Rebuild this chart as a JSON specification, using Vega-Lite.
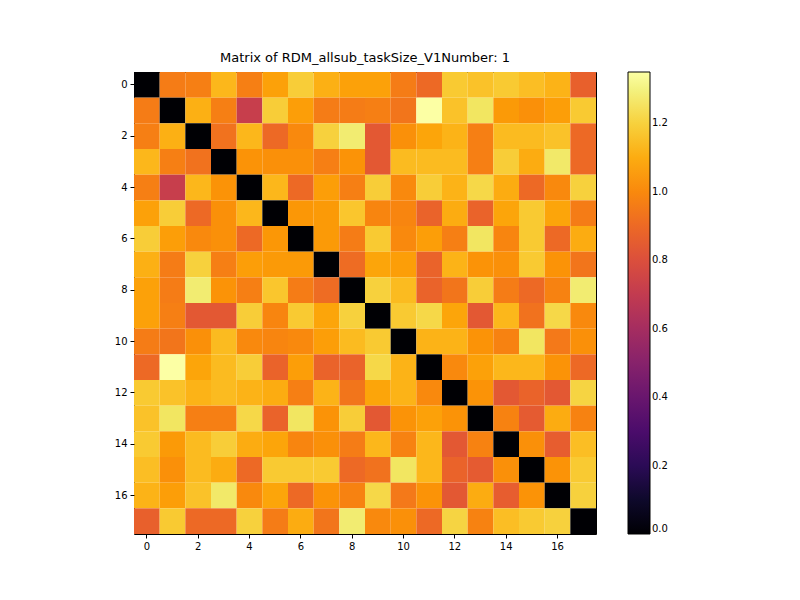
{"$schema":"https://vega.github.io/schema/vega-lite/v6.json","width":462,"height":462,"autosize":{"type":"none"},"padding":{"left":134,"top":72,"right":204,"bottom":66},
"config":{"font":"DejaVu Sans","view":{"stroke":"black","strokeWidth":1}},
"title":{"text":"Matrix of RDM_allsub_taskSize_V1Number: 1","fontSize":13,"fontWeight":"normal","color":"black","offset":7},
"data":{"values":[
{"r":0,"c":0,"v":0},{"r":0,"c":1,"v":0.96},{"r":0,"c":2,"v":0.97},{"r":0,"c":3,"v":1.13},{"r":0,"c":4,"v":0.97},{"r":0,"c":5,"v":1.07},{"r":0,"c":6,"v":1.19},{"r":0,"c":7,"v":1.11},{"r":0,"c":8,"v":1.07},{"r":0,"c":9,"v":1.07},{"r":0,"c":10,"v":0.96},{"r":0,"c":11,"v":0.9},{"r":0,"c":12,"v":1.18},{"r":0,"c":13,"v":1.16},{"r":0,"c":14,"v":1.18},{"r":0,"c":15,"v":1.15},{"r":0,"c":16,"v":1.12},{"r":0,"c":17,"v":0.87},
{"r":1,"c":0,"v":0.96},{"r":1,"c":1,"v":0},{"r":1,"c":2,"v":1.11},{"r":1,"c":3,"v":0.97},{"r":1,"c":4,"v":0.72},{"r":1,"c":5,"v":1.19},{"r":1,"c":6,"v":1.06},{"r":1,"c":7,"v":0.96},{"r":1,"c":8,"v":0.96},{"r":1,"c":9,"v":0.97},{"r":1,"c":10,"v":0.94},{"r":1,"c":11,"v":1.35},{"r":1,"c":12,"v":1.16},{"r":1,"c":13,"v":1.26},{"r":1,"c":14,"v":1.05},{"r":1,"c":15,"v":1.02},{"r":1,"c":16,"v":1.06},{"r":1,"c":17,"v":1.18},
{"r":2,"c":0,"v":0.97},{"r":2,"c":1,"v":1.11},{"r":2,"c":2,"v":0},{"r":2,"c":3,"v":0.93},{"r":2,"c":4,"v":1.13},{"r":2,"c":5,"v":0.9},{"r":2,"c":6,"v":1.0},{"r":2,"c":7,"v":1.2},{"r":2,"c":8,"v":1.28},{"r":2,"c":9,"v":0.84},{"r":2,"c":10,"v":1.02},{"r":2,"c":11,"v":1.08},{"r":2,"c":12,"v":1.12},{"r":2,"c":13,"v":0.97},{"r":2,"c":14,"v":1.14},{"r":2,"c":15,"v":1.14},{"r":2,"c":16,"v":1.16},{"r":2,"c":17,"v":0.9},
{"r":3,"c":0,"v":1.13},{"r":3,"c":1,"v":0.97},{"r":3,"c":2,"v":0.93},{"r":3,"c":3,"v":0},{"r":3,"c":4,"v":1.03},{"r":3,"c":5,"v":1.02},{"r":3,"c":6,"v":1.02},{"r":3,"c":7,"v":0.97},{"r":3,"c":8,"v":1.03},{"r":3,"c":9,"v":0.84},{"r":3,"c":10,"v":1.14},{"r":3,"c":11,"v":1.14},{"r":3,"c":12,"v":1.14},{"r":3,"c":13,"v":0.97},{"r":3,"c":14,"v":1.19},{"r":3,"c":15,"v":1.1},{"r":3,"c":16,"v":1.27},{"r":3,"c":17,"v":0.9},
{"r":4,"c":0,"v":0.97},{"r":4,"c":1,"v":0.72},{"r":4,"c":2,"v":1.13},{"r":4,"c":3,"v":1.03},{"r":4,"c":4,"v":0},{"r":4,"c":5,"v":1.13},{"r":4,"c":6,"v":0.9},{"r":4,"c":7,"v":1.06},{"r":4,"c":8,"v":0.97},{"r":4,"c":9,"v":1.19},{"r":4,"c":10,"v":1.0},{"r":4,"c":11,"v":1.19},{"r":4,"c":12,"v":1.12},{"r":4,"c":13,"v":1.22},{"r":4,"c":14,"v":1.1},{"r":4,"c":15,"v":0.9},{"r":4,"c":16,"v":1.0},{"r":4,"c":17,"v":1.2},
{"r":5,"c":0,"v":1.07},{"r":5,"c":1,"v":1.19},{"r":5,"c":2,"v":0.9},{"r":5,"c":3,"v":1.02},{"r":5,"c":4,"v":1.13},{"r":5,"c":5,"v":0},{"r":5,"c":6,"v":1.04},{"r":5,"c":7,"v":1.05},{"r":5,"c":8,"v":1.17},{"r":5,"c":9,"v":0.99},{"r":5,"c":10,"v":0.99},{"r":5,"c":11,"v":0.88},{"r":5,"c":12,"v":1.1},{"r":5,"c":13,"v":0.88},{"r":5,"c":14,"v":1.08},{"r":5,"c":15,"v":1.18},{"r":5,"c":16,"v":1.08},{"r":5,"c":17,"v":0.96},
{"r":6,"c":0,"v":1.19},{"r":6,"c":1,"v":1.06},{"r":6,"c":2,"v":1.0},{"r":6,"c":3,"v":1.02},{"r":6,"c":4,"v":0.9},{"r":6,"c":5,"v":1.04},{"r":6,"c":6,"v":0},{"r":6,"c":7,"v":1.05},{"r":6,"c":8,"v":0.96},{"r":6,"c":9,"v":1.18},{"r":6,"c":10,"v":1.0},{"r":6,"c":11,"v":1.06},{"r":6,"c":12,"v":0.97},{"r":6,"c":13,"v":1.26},{"r":6,"c":14,"v":0.99},{"r":6,"c":15,"v":1.18},{"r":6,"c":16,"v":0.9},{"r":6,"c":17,"v":1.1},
{"r":7,"c":0,"v":1.11},{"r":7,"c":1,"v":0.96},{"r":7,"c":2,"v":1.2},{"r":7,"c":3,"v":0.97},{"r":7,"c":4,"v":1.06},{"r":7,"c":5,"v":1.05},{"r":7,"c":6,"v":1.05},{"r":7,"c":7,"v":0},{"r":7,"c":8,"v":0.91},{"r":7,"c":9,"v":1.08},{"r":7,"c":10,"v":1.06},{"r":7,"c":11,"v":0.88},{"r":7,"c":12,"v":1.12},{"r":7,"c":13,"v":1.03},{"r":7,"c":14,"v":1.02},{"r":7,"c":15,"v":1.18},{"r":7,"c":16,"v":1.03},{"r":7,"c":17,"v":0.94},
{"r":8,"c":0,"v":1.07},{"r":8,"c":1,"v":0.96},{"r":8,"c":2,"v":1.28},{"r":8,"c":3,"v":1.03},{"r":8,"c":4,"v":0.97},{"r":8,"c":5,"v":1.17},{"r":8,"c":6,"v":0.96},{"r":8,"c":7,"v":0.91},{"r":8,"c":8,"v":0},{"r":8,"c":9,"v":1.2},{"r":8,"c":10,"v":1.14},{"r":8,"c":11,"v":0.88},{"r":8,"c":12,"v":0.94},{"r":8,"c":13,"v":1.19},{"r":8,"c":14,"v":0.96},{"r":8,"c":15,"v":0.9},{"r":8,"c":16,"v":0.98},{"r":8,"c":17,"v":1.28},
{"r":9,"c":0,"v":1.07},{"r":9,"c":1,"v":0.97},{"r":9,"c":2,"v":0.84},{"r":9,"c":3,"v":0.84},{"r":9,"c":4,"v":1.19},{"r":9,"c":5,"v":0.99},{"r":9,"c":6,"v":1.18},{"r":9,"c":7,"v":1.08},{"r":9,"c":8,"v":1.2},{"r":9,"c":9,"v":0},{"r":9,"c":10,"v":1.18},{"r":9,"c":11,"v":1.22},{"r":9,"c":12,"v":1.08},{"r":9,"c":13,"v":0.84},{"r":9,"c":14,"v":1.13},{"r":9,"c":15,"v":0.93},{"r":9,"c":16,"v":1.22},{"r":9,"c":17,"v":1.0},
{"r":10,"c":0,"v":0.96},{"r":10,"c":1,"v":0.94},{"r":10,"c":2,"v":1.02},{"r":10,"c":3,"v":1.14},{"r":10,"c":4,"v":1.0},{"r":10,"c":5,"v":0.99},{"r":10,"c":6,"v":1.0},{"r":10,"c":7,"v":1.06},{"r":10,"c":8,"v":1.14},{"r":10,"c":9,"v":1.18},{"r":10,"c":10,"v":0},{"r":10,"c":11,"v":1.12},{"r":10,"c":12,"v":1.12},{"r":10,"c":13,"v":1.03},{"r":10,"c":14,"v":0.98},{"r":10,"c":15,"v":1.26},{"r":10,"c":16,"v":0.95},{"r":10,"c":17,"v":1.02},
{"r":11,"c":0,"v":0.9},{"r":11,"c":1,"v":1.35},{"r":11,"c":2,"v":1.08},{"r":11,"c":3,"v":1.14},{"r":11,"c":4,"v":1.19},{"r":11,"c":5,"v":0.88},{"r":11,"c":6,"v":1.06},{"r":11,"c":7,"v":0.88},{"r":11,"c":8,"v":0.88},{"r":11,"c":9,"v":1.22},{"r":11,"c":10,"v":1.12},{"r":11,"c":11,"v":0},{"r":11,"c":12,"v":1.0},{"r":11,"c":13,"v":1.07},{"r":11,"c":14,"v":1.13},{"r":11,"c":15,"v":1.13},{"r":11,"c":16,"v":1.03},{"r":11,"c":17,"v":0.9},
{"r":12,"c":0,"v":1.18},{"r":12,"c":1,"v":1.16},{"r":12,"c":2,"v":1.12},{"r":12,"c":3,"v":1.14},{"r":12,"c":4,"v":1.12},{"r":12,"c":5,"v":1.1},{"r":12,"c":6,"v":0.97},{"r":12,"c":7,"v":1.12},{"r":12,"c":8,"v":0.94},{"r":12,"c":9,"v":1.08},{"r":12,"c":10,"v":1.12},{"r":12,"c":11,"v":1.0},{"r":12,"c":12,"v":0},{"r":12,"c":13,"v":1.03},{"r":12,"c":14,"v":0.84},{"r":12,"c":15,"v":0.88},{"r":12,"c":16,"v":0.84},{"r":12,"c":17,"v":1.21},
{"r":13,"c":0,"v":1.16},{"r":13,"c":1,"v":1.26},{"r":13,"c":2,"v":0.97},{"r":13,"c":3,"v":0.97},{"r":13,"c":4,"v":1.22},{"r":13,"c":5,"v":0.88},{"r":13,"c":6,"v":1.26},{"r":13,"c":7,"v":1.03},{"r":13,"c":8,"v":1.19},{"r":13,"c":9,"v":0.84},{"r":13,"c":10,"v":1.03},{"r":13,"c":11,"v":1.07},{"r":13,"c":12,"v":1.03},{"r":13,"c":13,"v":0},{"r":13,"c":14,"v":0.98},{"r":13,"c":15,"v":0.85},{"r":13,"c":16,"v":1.1},{"r":13,"c":17,"v":0.98},
{"r":14,"c":0,"v":1.18},{"r":14,"c":1,"v":1.05},{"r":14,"c":2,"v":1.14},{"r":14,"c":3,"v":1.19},{"r":14,"c":4,"v":1.1},{"r":14,"c":5,"v":1.08},{"r":14,"c":6,"v":0.99},{"r":14,"c":7,"v":1.02},{"r":14,"c":8,"v":0.96},{"r":14,"c":9,"v":1.13},{"r":14,"c":10,"v":0.98},{"r":14,"c":11,"v":1.13},{"r":14,"c":12,"v":0.84},{"r":14,"c":13,"v":0.98},{"r":14,"c":14,"v":0},{"r":14,"c":15,"v":1.02},{"r":14,"c":16,"v":0.86},{"r":14,"c":17,"v":1.15},
{"r":15,"c":0,"v":1.15},{"r":15,"c":1,"v":1.02},{"r":15,"c":2,"v":1.14},{"r":15,"c":3,"v":1.1},{"r":15,"c":4,"v":0.9},{"r":15,"c":5,"v":1.18},{"r":15,"c":6,"v":1.18},{"r":15,"c":7,"v":1.18},{"r":15,"c":8,"v":0.9},{"r":15,"c":9,"v":0.93},{"r":15,"c":10,"v":1.26},{"r":15,"c":11,"v":1.13},{"r":15,"c":12,"v":0.88},{"r":15,"c":13,"v":0.85},{"r":15,"c":14,"v":1.02},{"r":15,"c":15,"v":0},{"r":15,"c":16,"v":1.03},{"r":15,"c":17,"v":1.18},
{"r":16,"c":0,"v":1.12},{"r":16,"c":1,"v":1.06},{"r":16,"c":2,"v":1.16},{"r":16,"c":3,"v":1.27},{"r":16,"c":4,"v":1.0},{"r":16,"c":5,"v":1.08},{"r":16,"c":6,"v":0.9},{"r":16,"c":7,"v":1.03},{"r":16,"c":8,"v":0.98},{"r":16,"c":9,"v":1.22},{"r":16,"c":10,"v":0.95},{"r":16,"c":11,"v":1.03},{"r":16,"c":12,"v":0.84},{"r":16,"c":13,"v":1.1},{"r":16,"c":14,"v":0.86},{"r":16,"c":15,"v":1.03},{"r":16,"c":16,"v":0},{"r":16,"c":17,"v":1.2},
{"r":17,"c":0,"v":0.87},{"r":17,"c":1,"v":1.18},{"r":17,"c":2,"v":0.9},{"r":17,"c":3,"v":0.9},{"r":17,"c":4,"v":1.2},{"r":17,"c":5,"v":0.96},{"r":17,"c":6,"v":1.1},{"r":17,"c":7,"v":0.94},{"r":17,"c":8,"v":1.28},{"r":17,"c":9,"v":1.0},{"r":17,"c":10,"v":1.02},{"r":17,"c":11,"v":0.9},{"r":17,"c":12,"v":1.21},{"r":17,"c":13,"v":0.98},{"r":17,"c":14,"v":1.15},{"r":17,"c":15,"v":1.18},{"r":17,"c":16,"v":1.2},{"r":17,"c":17,"v":0}
]},
"mark":{"type":"rect"},
"encoding":{
"x":{"field":"c","type":"ordinal","scale":{"paddingInner":0,"paddingOuter":0},"axis":{"values":[0,2,4,6,8,10,12,14,16],"title":null,"labelAngle":0,"labelFontSize":10,"labelColor":"black","tickColor":"black","domain":false,"labelPadding":3,"tickSize":4}},
"y":{"field":"r","type":"ordinal","scale":{"paddingInner":0,"paddingOuter":0},"axis":{"values":[0,2,4,6,8,10,12,14,16],"title":null,"labelFontSize":10,"labelColor":"black","tickColor":"black","domain":false,"labelPadding":3,"tickSize":4}},
"color":{"field":"v","type":"quantitative","scale":{"scheme":"inferno","domain":[0,1.35]},"legend":{"title":null,"gradientLength":462,"gradientThickness":22,"offset":32,"values":[0,0.2,0.4,0.6,0.8,1.0,1.2],"format":".1f","labelFontSize":10,"labelColor":"black","gradientStrokeColor":"black","gradientStrokeWidth":1}}
}}
